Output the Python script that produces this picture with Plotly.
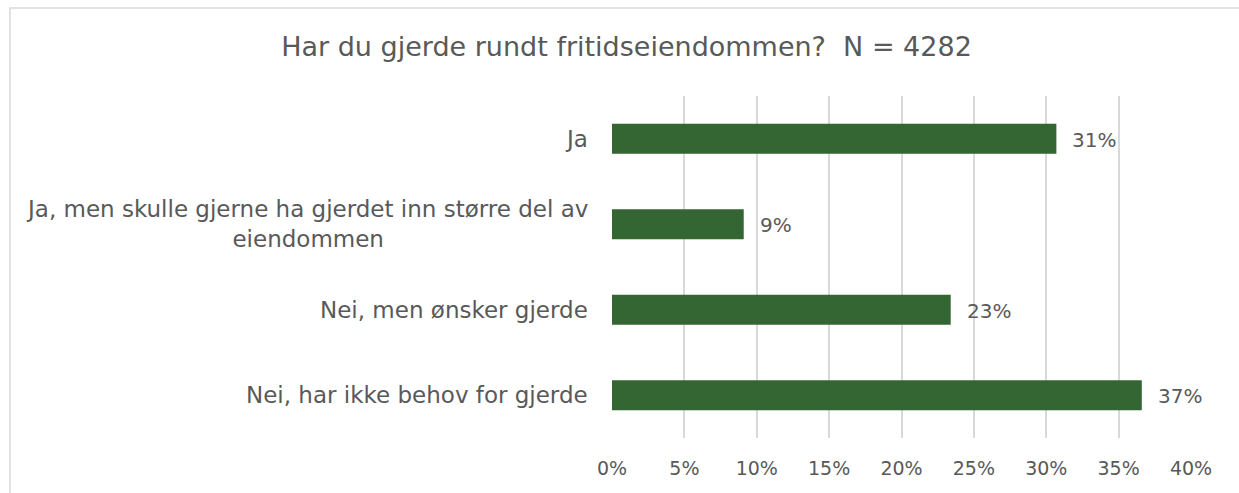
import plotly.graph_objects as go

# Survey answers (top to bottom) and share of respondents in percent
categories = [
    "Ja",
    "Ja, men skulle gjerne ha gjerdet inn større del av<br>eiendommen",
    "Nei, men ønsker gjerde",
    "Nei, har ikke behov for gjerde",
]
shares = [30.7, 9.1, 23.4, 36.6]
tick_values = [0, 5, 10, 15, 20, 25, 30, 35, 40]
tick_labels = ["0%", "5%", "10%", "15%", "20%", "25%", "30%", "35%", "40%"]

title_text = "Har du gjerde rundt fritidseiendommen?  N = 4282"

FONT = "DejaVu Sans"
TEXT_GREY = "#595959"
GRID_GREY = "#d9d9d9"
BAR_GREEN = "#336633"

W, H = 1239, 493
M_L, M_R, M_T, M_B = 612, 48, 96, 55

fig = go.Figure()
fig.add_trace(go.Bar(
    x=shares,
    y=categories,
    orientation="h",
    marker=dict(color=BAR_GREEN, line=dict(width=0)),
    hoverinfo="skip",
))

# value labels right of each bar, category labels left of the axis
annotations = []
for cat, val in zip(categories, shares):
    annotations.append(dict(
        x=val, y=cat, xref="x", yref="y",
        text=f"{val:.0f}%", showarrow=False,
        xanchor="left", yanchor="middle", xshift=14, yshift=-1,
        font=dict(family=FONT, size=20, color=TEXT_GREY),
    ))
    annotations.append(dict(
        x=0, y=cat, xref="paper", yref="y",
        text=cat, showarrow=False, align="center",
        xanchor="right", yanchor="middle", xshift=-22,
        font=dict(family=FONT, size=23, color=TEXT_GREY),
    ))

plot_w = W - M_L - M_R
plot_h = H - M_T - M_B

fig.update_layout(
    width=W, height=H,
    margin=dict(l=M_L, r=M_R, t=M_T, b=M_B),
    paper_bgcolor="white", plot_bgcolor="white",
    showlegend=False,
    bargap=0.65,
    title=dict(
        text=title_text, x=626.5 / W, xref="container", xanchor="center",
        y=1 - 47 / H, yref="container", yanchor="middle",
        font=dict(family=FONT, size=27, color=TEXT_GREY),
    ),
    xaxis=dict(
        range=[0, 40], tickvals=tick_values, ticktext=tick_labels,
        showgrid=True, gridcolor=GRID_GREY, gridwidth=1.5,
        zeroline=False, showline=False, ticks="",
        ticklabelstandoff=17,
        tickfont=dict(family=FONT, size=19, color=TEXT_GREY),
        fixedrange=True,
    ),
    yaxis=dict(
        autorange="reversed", showticklabels=False, showgrid=False,
        zeroline=False, showline=False, ticks="", fixedrange=True,
    ),
    annotations=annotations,
    shapes=[dict(
        type="rect", xref="paper", yref="paper",
        x0=(10 - M_L) / plot_w, x1=(W + 20 - M_L) / plot_w,
        y0=-0.5, y1=(H - M_B - 8) / plot_h,
        line=dict(color=GRID_GREY, width=1.5), fillcolor="rgba(0,0,0,0)",
        layer="below",
    )],
)

fig.write_html("out.html")
